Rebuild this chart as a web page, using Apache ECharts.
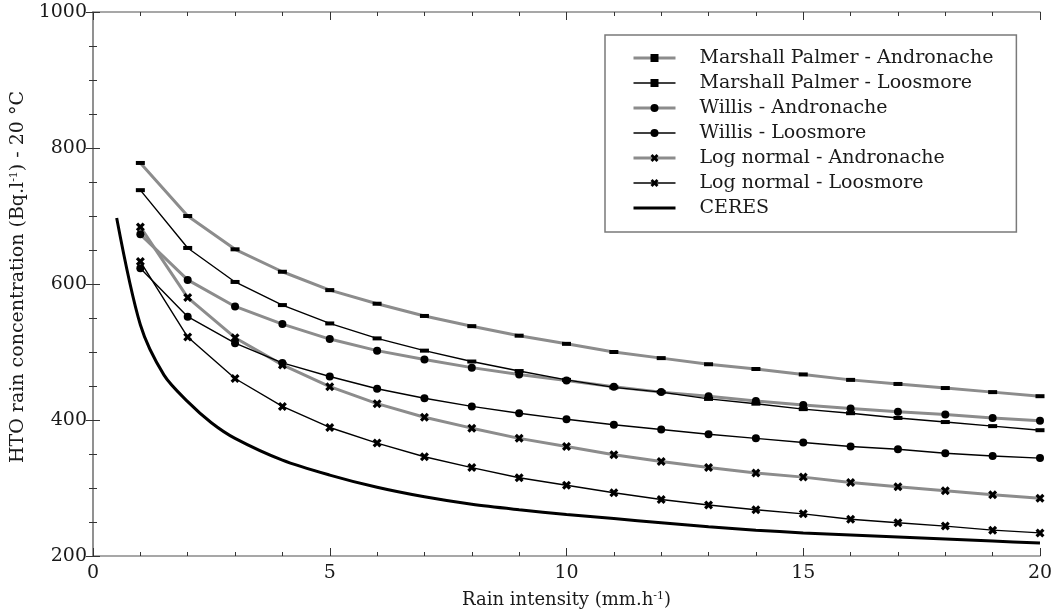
<!DOCTYPE html>
<html>
<head>
<meta charset="utf-8">
<script src="https://cdn.jsdelivr.net/npm/echarts@6/dist/echarts.min.js"></script>
<style>
html,body{margin:0;padding:0;background:#fff;}
#chart{width:1052px;height:614px;}
</style>
</head>
<body>
<div id="chart"></div>
<script>
const rainIntensity = [1,2,3,4,5,6,7,8,9,10,11,12,13,14,15,16,17,18,19,20];
const mpAndronache = [778,700,651,618,591,571,553,538,524,512,500,491,482,475,467,459,453,447,441,435];
const mpLoosmore   = [738,653,603,569,542,520,502,486,472,459,448,441,431,424,416,410,403,397,391,385];
const willisAndronache = [673,606,567,541,519,502,489,477,467,458,449,441,435,428,422,417,412,408,403,399];
const willisLoosmore   = [623,552,513,484,464,446,432,420,410,401,393,386,379,373,367,361,357,351,347,344];
const logAndronache = [684,580,521,481,449,424,404,388,373,361,349,339,330,322,316,308,302,296,290,285];
const logLoosmore   = [633,522,461,420,389,366,346,330,315,304,293,283,275,268,262,254,249,244,238,234];
const ceresX = [0.5,1,1.5,2,2.5,3,4,5,6,7,8,9,10,11,12,13,14,15,16,17,18,19,20];
const ceresY = [697,540,466,427,396,373,341,319,301,287,276,268,261,255,249,243,238,234,231,228,225,222,219];
const seriesNames = ['Marshall Palmer - Andronache','Marshall Palmer - Loosmore','Willis - Andronache','Willis - Loosmore','Log normal - Andronache','Log normal - Loosmore','CERES'];

const FONT = 'DejaVu Serif';
const TXT = '#1a1a1a';
const AX = '#8a8a8a';
const GRAY = '#8c8c8c';
const xPath = 'path://M0,2.5 L2.5,0 L5,2.5 L7.5,0 L10,2.5 L7.5,5 L10,7.5 L7.5,10 L5,7.5 L2.5,10 L0,7.5 L2.5,5 Z';

function pairs(xs, ys){ return xs.map((x,i)=>[x, ys[i]]); }
function mk(name, ys, color, width, symbol, size){
  return {
    name, type:'line', data: pairs(rainIntensity, ys), color,
    symbol, symbolSize: size, showSymbol:true,
    lineStyle:{color, width},
    itemStyle:{color:'#000', borderWidth:0},
    emphasis:{disabled:true}, animation:false, z: width>2?2:3
  };
}
const styleOf = [
  {c:GRAY,w:3,s:'rect'},{c:'#000',w:1.4,s:'rect'},
  {c:GRAY,w:3,s:'circle'},{c:'#000',w:1.4,s:'circle'},
  {c:GRAY,w:3,s:xPath},{c:'#000',w:1.4,s:xPath}
];
const legendData = seriesNames.map((n,i)=>{
  if(i===6) return {name:n, icon:'path://M0,0 L42,0 L42,3 L0,3 Z', itemStyle:{color:'#000'}};
  return {name:n, itemStyle:{color:'#000', borderWidth:0}, lineStyle:{color:styleOf[i].c, width:styleOf[i].w}};
});

const chart = echarts.init(document.getElementById('chart'), null, {renderer:'canvas'});
const axisCommon = {
  min:0, max:20, interval:5, type:'value',
  axisLine:{show:true, lineStyle:{color:AX, width:1.5}},
  axisTick:{show:true, inside:true, length:8, lineStyle:{color:'#333', width:1}},
  minorTick:{show:true, splitNumber:5, length:4, lineStyle:{color:'#333', width:1}},
  splitLine:{show:false}
};
const yCommon = {
  min:200, max:1000, interval:200, type:'value',
  axisLine:{show:true, lineStyle:{color:AX, width:1.5}},
  axisTick:{show:true, inside:true, length:7, lineStyle:{color:'#333', width:1}},
  minorTick:{show:true, splitNumber:4, length:4, lineStyle:{color:'#333', width:1}},
  splitLine:{show:false}
};
chart.setOption({
  animation:false,
  backgroundColor:'#fff',
  grid:{left:93, right:12, top:12, bottom:58, outerBoundsMode:'none', containLabel:false},
  xAxis:[
    Object.assign({}, axisCommon, {
      position:'bottom',
      axisLabel:{fontFamily:FONT, fontSize:19, color:TXT, margin:8, formatter:v=>String(v)},
      name:'Rain intensity (mm.h{sup|-1})',
      nameLocation:'middle', nameGap:35,
      nameTextStyle:{fontFamily:FONT, fontSize:18, color:TXT,
        rich:{sup:{fontFamily:FONT, fontSize:11, color:TXT, verticalAlign:'top', padding:[0,0,8,0]}}}
    }),
    Object.assign({}, axisCommon, {position:'top', axisLabel:{show:false}})
  ],
  yAxis:[
    Object.assign({}, yCommon, {
      position:'left',
      axisLabel:{fontFamily:FONT, fontSize:19, color:TXT, margin:6, formatter:v=>String(v)},
      name:'HTO rain concentration (Bq.l{sup|-1}) - 20 °C',
      nameLocation:'middle', nameGap:65, nameRotate:90,
      nameTextStyle:{fontFamily:FONT, fontSize:19, color:TXT, padding:[0,0,0,14],
        rich:{sup:{fontFamily:FONT, fontSize:11, color:TXT, verticalAlign:'top', padding:[0,0,8,0]}}}
    }),
    Object.assign({}, yCommon, {position:'right', axisLabel:{show:false}})
  ],
  legend:{
    left:605, top:35, orient:'vertical',
    data: legendData,
    itemWidth:42, itemHeight:10, itemGap:5,
    padding:[13,23,14,27],
    borderColor:'#7a7a7a', borderWidth:1.5, backgroundColor:'#fff',
    textStyle:{fontFamily:FONT, fontSize:19, color:TXT, padding:[0,0,0,19], lineHeight:20},
    selectedMode:false
  },
  series:[
    mk(seriesNames[0], mpAndronache, GRAY, 3, 'rect', [9,4]),
    mk(seriesNames[1], mpLoosmore, '#000', 1.4, 'rect', [9,4]),
    mk(seriesNames[2], willisAndronache, GRAY, 3, 'circle', 8),
    mk(seriesNames[3], willisLoosmore, '#000', 1.4, 'circle', 8),
    mk(seriesNames[4], logAndronache, GRAY, 3, xPath, 9),
    mk(seriesNames[5], logLoosmore, '#000', 1.4, xPath, 9),
    {
      name:seriesNames[6], type:'line', data: pairs(ceresX, ceresY), color:'#000',
      symbol:'none', smooth:0.3, lineStyle:{color:'#000', width:3},
      itemStyle:{color:'#000'}, emphasis:{disabled:true}, z:4
    }
  ]
});
</script>
</body>
</html>
